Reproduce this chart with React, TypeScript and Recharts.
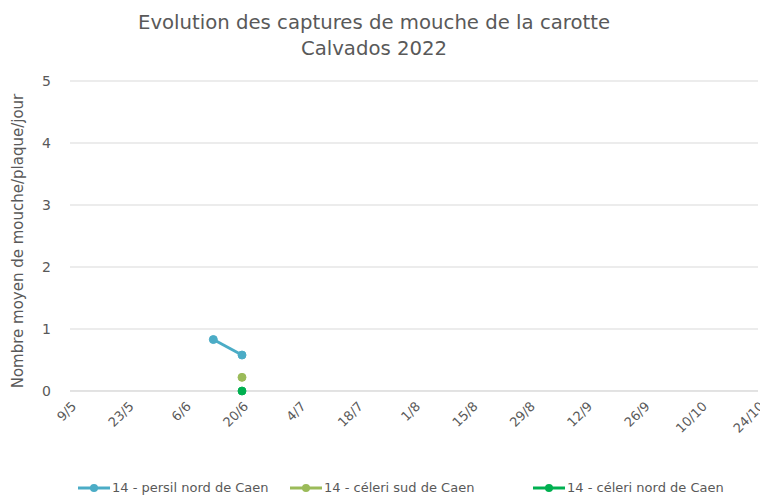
import React from 'react';
import { LineChart, Line, XAxis, YAxis, CartesianGrid } from 'recharts';

const tickLabels = ['9/5', '23/5', '6/6', '20/6', '4/7', '18/7', '1/8', '15/8', '29/8', '12/9', '26/9', '10/10', '24/10'];
const yTicks = [0, 1, 2, 3, 4, 5];

const persilDates = ['13/6', '20/6'];
const persilValues = [0.83, 0.58];
const celeriSudDates = ['20/6'];
const celeriSudValues = [0.22];
const celeriNordDates = ['20/6'];
const celeriNordValues = [0];

const seriesNames = ['14 - persil nord de Caen', '14 - céleri sud de Caen', '14 - céleri nord de Caen'];
const seriesColors = ['#4BACC6', '#9BBB59', '#00B050'];

const monthStart: Record<number, number> = { 5: 0, 6: 31, 7: 61, 8: 92, 9: 123, 10: 153 };
const toDay = (s: string) => {
  const [d, m] = s.split('/').map(Number);
  return monthStart[m] + d - 9;
};
const tickDays = tickLabels.map(toDay);
const labelOf = (v: number) => tickLabels[tickDays.indexOf(v)] ?? '';

const build = (dates: string[], vals: number[]) => dates.map((d, i) => ({ x: toDay(d), y: vals[i] }));
const seriesData = [
  build(persilDates, persilValues),
  build(celeriSudDates, celeriSudValues),
  build(celeriNordDates, celeriNordValues),
];

const FONT = '"DejaVu Sans", Verdana, sans-serif';
const TXT = '#595959';

const XTick = (props: any) => {
  const { x, y, payload } = props;
  return (
    <text x={x + 4} y={y + 5} transform={`rotate(-45 ${x + 4} ${y + 5})`} textAnchor="end" dominantBaseline="central" fill={TXT} fontSize={13} fontFamily={FONT}>
      {labelOf(payload.value)}
    </text>
  );
};

const legendX = [78, 290, 533];

export default function App() {
  return (
    <div style={{ position: 'absolute', left: 0, top: 0, width: 760, height: 495, background: '#fff', fontFamily: FONT }}>
      <div style={{ position: 'absolute', top: 10, left: -6, width: 760, textAlign: 'center', color: TXT, fontSize: 19.7, lineHeight: '26px' }}>
        Evolution des captures de mouche de la carotte<br />Calvados 2022
      </div>
      <div style={{ position: 'absolute', left: 18, top: 241, width: 0, height: 0 }}>
        <div style={{ position: 'absolute', transform: 'translate(-50%,-50%) rotate(-90deg)', whiteSpace: 'nowrap', color: TXT, fontSize: 15 }}>
          Nombre moyen de mouche/plaque/jour
        </div>
      </div>
      <LineChart width={760} height={495} margin={{ top: 81, right: 2, left: 0, bottom: 0 }}>
        <CartesianGrid vertical={false} stroke="#d9d9d9" />
        <XAxis
          type="number"
          dataKey="x"
          domain={[tickDays[0], tickDays[tickDays.length - 1]]}
          ticks={tickDays}
          tick={<XTick />}
          tickLine={false}
          axisLine={{ stroke: '#d9d9d9' }}
          height={104}
          allowDuplicatedCategory={false}
          interval={0}
        />
        <YAxis
          type="number"
          domain={[0, 5]}
          ticks={yTicks}
          width={70}
          tickLine={false}
          axisLine={false}
          tick={{ fill: TXT, fontSize: 14, fontFamily: FONT }}
          tickMargin={13}
        />
        {seriesData.map((d, i) => (
          <Line
            key={i}
            data={d}
            dataKey="y"
            name={seriesNames[i]}
            stroke={seriesColors[i]}
            strokeWidth={3}
            dot={{ r: 4, fill: seriesColors[i], stroke: seriesColors[i], strokeWidth: 1 }}
            isAnimationActive={false}
          />
        ))}
      </LineChart>
      {seriesNames.map((n, i) => (
        <div key={i} style={{ position: 'absolute', left: legendX[i], top: 480, display: 'flex', alignItems: 'center', color: TXT, fontSize: 13, whiteSpace: 'nowrap' }}>
          <svg width={32} height={10} style={{ marginRight: 2 }}>
            <line x1={0} y1={5} x2={32} y2={5} stroke={seriesColors[i]} strokeWidth={3} />
            <circle cx={16} cy={5} r={4} fill={seriesColors[i]} />
          </svg>
          {n}
        </div>
      ))}
    </div>
  );
}
